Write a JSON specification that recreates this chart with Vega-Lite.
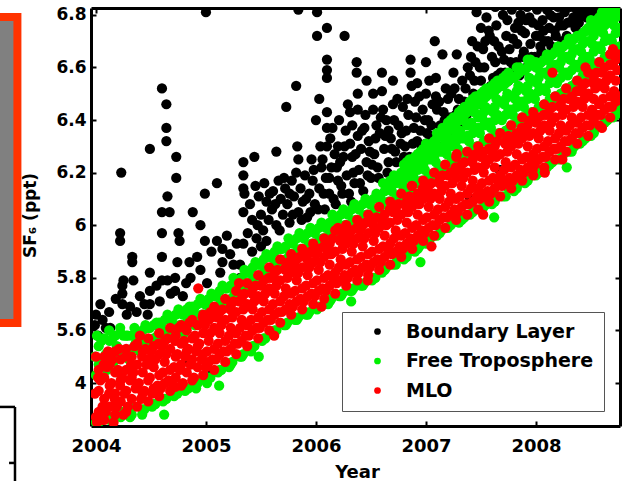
{
  "$schema": "https://vega.github.io/schema/vega-lite/v6.json",
  "width": 529,
  "height": 418,
  "autosize": {"type": "none"},
  "padding": {"left": 91, "top": 8, "right": 12, "bottom": 55},
  "background": "#ffffff",
  "config": {
    "view": {"stroke": null},
    "font": "DejaVu Sans",
    "axis": {
      "grid": false,
      "domainColor": "#000000",
      "domainWidth": 3,
      "tickColor": "#000000",
      "tickWidth": 2,
      "tickSize": -5,
      "labelColor": "#000000",
      "labelFont": "DejaVu Sans",
      "labelFontWeight": "bold",
      "labelFontSize": 18,
      "titleColor": "#000000",
      "titleFont": "DejaVu Sans",
      "titleFontWeight": "bold",
      "zindex": 1
    }
  },
  "datasets": {
    "panel": [{"x0": 2002.94, "x1": 2003.286, "y0": 5.628, "y1": 6.792}],
    "corner": [
      {"x0": 2003.08, "x1": 2003.264, "y0": 5.309, "y1": 5.309},
      {"x0": 2003.264, "x1": 2003.264, "y0": 5.309, "y1": 4.99},
      {"x0": 2003.21, "x1": 2003.264, "y0": 5.096, "y1": 5.096}
    ],
    "bl": [
      {"t":2003.99,"v":5.62},{"t":2004.00,"v":5.66},{"t":2004.02,"v":5.58},{"t":2004.04,"v":5.70},{"t":2004.06,"v":5.64},
      {"t":2004.09,"v":5.61},{"t":2004.13,"v":5.61},{"t":2004.12,"v":5.67},{"t":2004.18,"v":5.72},{"t":2004.22,"v":5.97},
      {"t":2004.22,"v":5.94},{"t":2004.24,"v":5.77},{"t":2004.24,"v":5.74},{"t":2004.24,"v":5.70},{"t":2004.25,"v":5.79},
      {"t":2004.23,"v":6.20},{"t":2004.28,"v":5.66},{"t":2004.31,"v":5.69},{"t":2004.33,"v":5.88},{"t":2004.33,"v":5.86},
      {"t":2004.34,"v":5.79},{"t":2004.37,"v":5.67},{"t":2004.40,"v":5.73},{"t":2004.44,"v":5.70},{"t":2004.49,"v":5.82},
      {"t":2004.49,"v":5.75},{"t":2004.49,"v":5.70},{"t":2004.49,"v":6.29},{"t":2004.47,"v":5.66},
      {"t":2004.55,"v":5.77},{"t":2004.58,"v":5.71},{"t":2004.60,"v":5.79},{"t":2004.60,"v":5.88},{"t":2004.60,"v":5.97},
      {"t":2004.60,"v":6.05},{"t":2004.60,"v":6.52},{"t":2004.64,"v":6.46},{"t":2004.64,"v":6.37},{"t":2004.64,"v":6.32},
      {"t":2004.65,"v":6.11},{"t":2004.65,"v":5.79},{"t":2004.67,"v":6.05},{"t":2004.68,"v":5.74},{"t":2004.72,"v":5.80},
      {"t":2004.72,"v":5.75},{"t":2004.73,"v":6.26},{"t":2004.73,"v":6.18},{"t":2004.74,"v":5.86},{"t":2004.75,"v":5.97},
      {"t":2004.76,"v":5.94},{"t":2004.79,"v":5.73},{"t":2004.82,"v":5.78},{"t":2004.85,"v":5.86},{"t":2004.86,"v":5.80},
      {"t":2004.88,"v":6.05},{"t":2004.92,"v":5.88},{"t":2004.95,"v":6.00},{"t":2004.95,"v":5.83},{"t":2004.99,"v":5.94},
      {"t":2004.99,"v":6.12},{"t":2005.00,"v":6.81},{"t":2005.01,"v":5.78},{"t":2004.85,"v":5.48},
      {"t":2005.05,"v":5.90},{"t":2005.06,"v":5.44},{"t":2005.10,"v":6.16},{"t":2005.10,"v":5.94},{"t":2005.13,"v":5.82},
      {"t":2005.15,"v":5.91},{"t":2005.15,"v":5.86},{"t":2005.19,"v":5.96},{"t":2005.22,"v":5.89},{"t":2005.25,"v":5.85},
      {"t":2005.28,"v":5.93},{"t":2005.31,"v":5.85},{"t":2005.31,"v":5.80},{"t":2005.34,"v":5.93},{"t":2005.34,"v":6.05},
      {"t":2005.34,"v":6.24},{"t":2005.34,"v":6.19},{"t":2005.34,"v":6.14},{"t":2005.35,"v":6.12},{"t":2005.38,"v":5.97},
      {"t":2005.40,"v":6.08},{"t":2005.42,"v":6.02},{"t":2005.44,"v":6.26},{"t":2005.45,"v":6.15},{"t":2005.46,"v":5.95},
      {"t":2005.48,"v":6.11},{"t":2005.50,"v":6.04},{"t":2005.50,"v":5.92},
      {"t":2005.52,"v":5.98},{"t":2005.53,"v":6.16},{"t":2005.55,"v":6.09},{"t":2005.57,"v":6.02},{"t":2005.60,"v":6.06},
      {"t":2005.61,"v":6.13},{"t":2005.64,"v":6.28},{"t":2005.64,"v":6.00},{"t":2005.66,"v":6.17},{"t":2005.68,"v":6.10},
      {"t":2005.70,"v":6.04},{"t":2005.72,"v":6.14},{"t":2005.73,"v":6.45},{"t":2005.74,"v":6.08},{"t":2005.76,"v":6.01},
      {"t":2005.78,"v":6.17},{"t":2005.80,"v":6.11},{"t":2005.82,"v":6.53},{"t":2005.83,"v":6.30},{"t":2005.84,"v":6.25},
      {"t":2005.84,"v":6.05},{"t":2005.86,"v":6.14},{"t":2005.84,"v":6.82},{"t":2005.88,"v":6.09},{"t":2005.90,"v":6.19},
      {"t":2005.92,"v":6.03},{"t":2005.94,"v":6.12},{"t":2005.96,"v":6.25},{"t":2005.97,"v":6.17},{"t":2005.99,"v":6.08},
      {"t":2006.00,"v":6.40},{"t":2006.01,"v":6.72},{"t":2006.01,"v":6.81},{"t":2006.03,"v":6.48},{"t":2006.03,"v":6.14},
      {"t":2006.05,"v":6.22},{"t":2006.06,"v":6.25},{"t":2006.08,"v":6.06},{"t":2006.09,"v":6.18},{"t":2006.10,"v":6.75},
      {"t":2006.10,"v":6.63},{"t":2006.10,"v":6.59},{"t":2006.10,"v":6.56},{"t":2006.10,"v":6.43},{"t":2006.10,"v":6.37},
      {"t":2006.10,"v":6.30},{"t":2006.12,"v":6.12},{"t":2006.14,"v":6.22},{"t":2006.15,"v":6.37},{"t":2006.17,"v":6.27},
      {"t":2006.18,"v":6.08},{"t":2006.20,"v":6.17},{"t":2006.22,"v":6.24},{"t":2006.24,"v":6.12},{"t":2006.26,"v":6.72},
      {"t":2006.26,"v":6.30},{"t":2006.28,"v":6.19},{"t":2006.29,"v":6.46},{"t":2006.31,"v":6.43},{"t":2006.32,"v":6.09},
      {"t":2006.33,"v":6.26},{"t":2006.35,"v":6.16},{"t":2006.37,"v":6.62},{"t":2006.37,"v":6.58},{"t":2006.38,"v":6.50},
      {"t":2006.38,"v":6.44},{"t":2006.38,"v":6.34},{"t":2006.39,"v":6.21},{"t":2006.41,"v":6.29},{"t":2006.43,"v":6.13},
      {"t":2006.44,"v":6.37},{"t":2006.46,"v":6.55},{"t":2006.46,"v":6.24},{"t":2006.48,"v":6.32},{"t":2006.50,"v":6.18},
      {"t":2006.52,"v":6.44},{"t":2006.53,"v":6.27},{"t":2006.55,"v":6.38},{"t":2006.56,"v":6.22},{"t":2006.58,"v":6.35},
      {"t":2006.60,"v":6.58},{"t":2006.60,"v":6.51},{"t":2006.61,"v":6.44},{"t":2006.62,"v":6.29},{"t":2006.64,"v":6.40},
      {"t":2006.66,"v":6.24},{"t":2006.68,"v":6.33},{"t":2006.70,"v":6.46},{"t":2006.72,"v":6.28},{"t":2006.74,"v":6.48},
      {"t":2006.75,"v":6.38},{"t":2006.76,"v":5.89},{"t":2006.77,"v":6.31},{"t":2006.79,"v":6.45},{"t":2006.80,"v":6.26},
      {"t":2006.82,"v":6.36},{"t":2006.84,"v":6.42},{"t":2006.86,"v":6.63},{"t":2006.86,"v":6.58},{"t":2006.87,"v":6.53},
      {"t":2006.88,"v":6.31},{"t":2006.90,"v":6.47},{"t":2006.91,"v":6.41},{"t":2006.93,"v":6.27},{"t":2006.95,"v":6.36},
      {"t":2006.97,"v":6.44},{"t":2007.00,"v":6.62},{"t":2007.00,"v":6.50},{"t":2007.00,"v":6.31},
      {"t":2007.02,"v":6.40},{"t":2007.04,"v":6.34},{"t":2007.06,"v":6.46},{"t":2007.08,"v":6.70},{"t":2007.09,"v":6.56},
      {"t":2007.09,"v":6.49},{"t":2007.10,"v":6.44},{"t":2007.11,"v":6.30},{"t":2007.13,"v":6.38},{"t":2007.15,"v":6.65},
      {"t":2007.16,"v":6.43},{"t":2007.18,"v":6.34},{"t":2007.20,"v":6.48},{"t":2007.22,"v":6.41},{"t":2007.24,"v":6.37},
      {"t":2007.26,"v":6.52},{"t":2007.28,"v":6.65},{"t":2007.29,"v":6.44},{"t":2007.31,"v":6.39},{"t":2007.33,"v":6.55},
      {"t":2007.35,"v":6.47},{"t":2007.37,"v":6.42},{"t":2007.40,"v":6.10},{"t":2007.40,"v":6.57},{"t":2007.42,"v":6.70},
      {"t":2007.43,"v":6.50},{"t":2007.45,"v":6.62},{"t":2007.46,"v":6.81},{"t":2007.48,"v":6.46},{"t":2007.50,"v":6.75},
      {"t":2007.50,"v":6.55},{"t":2007.52,"v":6.67},{"t":2007.53,"v":6.60},{"t":2007.55,"v":6.79},{"t":2007.56,"v":6.51},
      {"t":2007.58,"v":6.72},{"t":2007.60,"v":6.64},{"t":2007.61,"v":6.56},{"t":2007.63,"v":6.83},{"t":2007.64,"v":6.76},
      {"t":2007.66,"v":6.68},{"t":2007.67,"v":6.21},{"t":2007.68,"v":6.58},{"t":2007.70,"v":6.80},{"t":2007.71,"v":6.63},
      {"t":2007.73,"v":6.72},{"t":2007.75,"v":6.55},{"t":2007.76,"v":6.67},{"t":2007.78,"v":6.82},{"t":2007.80,"v":6.60},
      {"t":2007.81,"v":6.75},{"t":2007.83,"v":6.69},{"t":2007.85,"v":6.57},{"t":2007.86,"v":6.80},{"t":2007.88,"v":6.64},
      {"t":2007.90,"v":6.73},{"t":2007.92,"v":6.83},{"t":2007.93,"v":6.61},{"t":2007.95,"v":6.69},{"t":2007.97,"v":6.77},
      {"t":2007.99,"v":6.64},{"t":2008.01,"v":6.82},{"t":2008.03,"v":6.72},{"t":2008.05,"v":6.66},{"t":2008.06,"v":6.78},
      {"t":2008.08,"v":6.70},{"t":2008.10,"v":6.82},{"t":2008.12,"v":6.75},{"t":2008.14,"v":6.68},{"t":2008.16,"v":6.79},
      {"t":2008.18,"v":6.72},{"t":2008.20,"v":6.83},{"t":2008.22,"v":6.76},{"t":2008.24,"v":6.70},{"t":2008.26,"v":6.81},
      {"t":2008.29,"v":6.77},{"t":2008.31,"v":6.83},{"t":2008.34,"v":6.79},{"t":2008.37,"v":6.82},{"t":2008.40,"v":6.80},
      {"t":2008.43,"v":6.83},{"t":2008.46,"v":6.79},{"t":2008.49,"v":6.82},{"t":2008.52,"v":6.80},{"t":2008.55,"v":6.83},
      {"t":2008.58,"v":6.81},
      {"t":2007.47,"v":6.68},{"t":2007.57,"v":6.74},{"t":2007.62,"v":6.70},{"t":2007.69,"v":6.66},{"t":2007.74,"v":6.78},
      {"t":2007.79,"v":6.71},{"t":2007.87,"v":6.74},{"t":2007.94,"v":6.79},{"t":2008.02,"v":6.76},{"t":2007.38,"v":6.60},
      {"t":2007.25,"v":6.58},{"t":2007.18,"v":6.52},{"t":2006.92,"v":6.54},{"t":2006.70,"v":6.55},{"t":2006.52,"v":6.50},
      {"t":2006.66,"v":6.36},{"t":2006.27,"v":6.36},{"t":2006.20,"v":6.30},{"t":2006.45,"v":6.42},{"t":2006.33,"v":6.38},
      {"t":2005.42,"v":5.90},{"t":2005.47,"v":6.00},{"t":2005.55,"v":5.94},{"t":2005.58,"v":6.12},{"t":2005.63,"v":6.08},
      {"t":2005.67,"v":5.98},{"t":2005.71,"v":6.18},{"t":2005.76,"v":6.12},{"t":2005.79,"v":6.04},{"t":2005.82,"v":6.20},
      {"t":2005.87,"v":6.02},{"t":2005.91,"v":6.10},{"t":2005.95,"v":6.05},{"t":2005.98,"v":6.21},
      {"t":2006.02,"v":6.06},{"t":2006.04,"v":6.30},{"t":2006.07,"v":6.12},{"t":2006.12,"v":6.18},{"t":2006.13,"v":6.33},
      {"t":2006.16,"v":6.10},{"t":2006.19,"v":6.22},{"t":2006.21,"v":6.40},{"t":2006.23,"v":6.15},{"t":2006.25,"v":6.26},
      {"t":2006.30,"v":6.12},{"t":2006.31,"v":6.31},{"t":2006.34,"v":6.20},{"t":2006.36,"v":6.27},{"t":2006.40,"v":6.16},
      {"t":2006.42,"v":6.36},{"t":2006.47,"v":6.19},{"t":2006.49,"v":6.28},{"t":2006.51,"v":6.23},{"t":2006.54,"v":6.33},
      {"t":2006.57,"v":6.18},{"t":2006.59,"v":6.41},
      {"t":2006.63,"v":6.34},{"t":2006.65,"v":6.20},{"t":2006.69,"v":6.29},{"t":2006.71,"v":6.40},{"t":2006.73,"v":6.24},
      {"t":2006.78,"v":6.35},{"t":2006.81,"v":6.30},{"t":2006.83,"v":6.48},{"t":2006.85,"v":6.26},{"t":2006.89,"v":6.37},
      {"t":2006.92,"v":6.32},{"t":2006.94,"v":6.49},{"t":2006.96,"v":6.30},{"t":2006.99,"v":6.40},{"t":2007.01,"v":6.35},
      {"t":2007.03,"v":6.55},{"t":2007.05,"v":6.38},{"t":2007.07,"v":6.31},{"t":2007.12,"v":6.47},{"t":2007.14,"v":6.35},
      {"t":2007.17,"v":6.40},{"t":2007.21,"v":6.36},{"t":2007.23,"v":6.50},{"t":2007.27,"v":6.42},{"t":2007.30,"v":6.48},
      {"t":2007.32,"v":6.41},{"t":2007.36,"v":6.52},{"t":2007.39,"v":6.45},
      {"t":2007.41,"v":6.64},{"t":2007.44,"v":6.55},{"t":2007.49,"v":6.60},{"t":2007.51,"v":6.50},{"t":2007.54,"v":6.70},
      {"t":2007.59,"v":6.53},{"t":2007.63,"v":6.62},{"t":2007.65,"v":6.57},{"t":2007.72,"v":6.58},{"t":2007.77,"v":6.62},
      {"t":2007.82,"v":6.62},{"t":2007.84,"v":6.77},{"t":2007.89,"v":6.66},{"t":2007.91,"v":6.78},{"t":2007.96,"v":6.64},
      {"t":2008.00,"v":6.72},{"t":2008.04,"v":6.68},{"t":2008.07,"v":6.74},{"t":2008.11,"v":6.70},{"t":2008.13,"v":6.80},
      {"t":2008.17,"v":6.74},{"t":2008.21,"v":6.79},{"t":2008.25,"v":6.76},{"t":2008.28,"v":6.72},{"t":2008.33,"v":6.77},
      {"t":2008.36,"v":6.75},{"t":2008.39,"v":6.77},{"t":2008.44,"v":6.80},{"t":2008.48,"v":6.79},{"t":2008.53,"v":6.82},
      {"t":2008.57,"v":6.83},{"t":2008.62,"v":6.84}
    ],
    "ft": [
      {"t":2004.00,"v":5.43},{"t":2003.99,"v":5.50},{"t":2004.01,"v":5.58},{"t":2004.00,"v":5.25},
      {"t":2004.06,"v":5.47},{"t":2004.05,"v":5.56},{"t":2004.04,"v":5.26},
      {"t":2004.10,"v":5.45},{"t":2004.09,"v":5.51},{"t":2004.12,"v":5.60},
      {"t":2004.16,"v":5.48},{"t":2004.15,"v":5.57},{"t":2004.14,"v":5.27},
      {"t":2004.20,"v":5.44},{"t":2004.19,"v":5.54},{"t":2004.22,"v":5.61},
      {"t":2004.26,"v":5.51},{"t":2004.25,"v":5.58},{"t":2004.24,"v":5.29},
      {"t":2004.30,"v":5.49},{"t":2004.29,"v":5.58},{"t":2004.31,"v":5.27},
      {"t":2004.36,"v":5.55},{"t":2004.35,"v":5.61},{"t":2004.34,"v":5.31},
      {"t":2004.40,"v":5.52},{"t":2004.39,"v":5.58},{"t":2004.42,"v":5.28},
      {"t":2004.46,"v":5.56},{"t":2004.45,"v":5.62},{"t":2004.44,"v":5.30},
      {"t":2004.50,"v":5.53},{"t":2004.49,"v":5.61},{"t":2004.51,"v":5.31},
      {"t":2004.56,"v":5.58},{"t":2004.55,"v":5.63},{"t":2004.54,"v":5.32},
      {"t":2004.60,"v":5.56},{"t":2004.59,"v":5.62},{"t":2004.61,"v":5.33},
      {"t":2004.66,"v":5.60},{"t":2004.65,"v":5.66},{"t":2004.64,"v":5.34},
      {"t":2004.70,"v":5.58},{"t":2004.69,"v":5.64},{"t":2004.71,"v":5.35},
      {"t":2004.76,"v":5.62},{"t":2004.75,"v":5.68},{"t":2004.74,"v":5.36},
      {"t":2004.80,"v":5.59},{"t":2004.79,"v":5.66},{"t":2004.81,"v":5.37},
      {"t":2004.86,"v":5.65},{"t":2004.85,"v":5.69},{"t":2004.84,"v":5.38},
      {"t":2004.90,"v":5.62},{"t":2004.89,"v":5.68},{"t":2004.91,"v":5.38},
      {"t":2004.96,"v":5.66},{"t":2004.95,"v":5.72},{"t":2004.94,"v":5.41},
      {"t":2005.00,"v":5.64},{"t":2004.99,"v":5.70},{"t":2005.01,"v":5.40},
      {"t":2005.06,"v":5.68},{"t":2005.05,"v":5.74},{"t":2005.04,"v":5.42},
      {"t":2005.10,"v":5.67},{"t":2005.09,"v":5.73},{"t":2005.11,"v":5.44},
      {"t":2005.16,"v":5.71},{"t":2005.15,"v":5.77},{"t":2005.14,"v":5.45},
      {"t":2005.20,"v":5.70},{"t":2005.19,"v":5.76},{"t":2005.21,"v":5.46},
      {"t":2005.26,"v":5.74},{"t":2005.25,"v":5.80},{"t":2005.24,"v":5.48},
      {"t":2005.30,"v":5.73},{"t":2005.29,"v":5.79},{"t":2005.31,"v":5.50},
      {"t":2005.36,"v":5.77},{"t":2005.35,"v":5.83},{"t":2005.34,"v":5.51},
      {"t":2005.40,"v":5.76},{"t":2005.39,"v":5.82},{"t":2005.41,"v":5.52},
      {"t":2005.46,"v":5.80},{"t":2005.45,"v":5.86},{"t":2005.44,"v":5.54},
      {"t":2005.50,"v":5.79},{"t":2005.49,"v":5.85},{"t":2005.51,"v":5.56},
      {"t":2005.56,"v":5.83},{"t":2005.55,"v":5.89},{"t":2005.54,"v":5.57},
      {"t":2005.60,"v":5.82},{"t":2005.59,"v":5.88},{"t":2005.61,"v":5.59},
      {"t":2005.66,"v":5.86},{"t":2005.65,"v":5.92},{"t":2005.64,"v":5.60},
      {"t":2005.70,"v":5.85},{"t":2005.69,"v":5.91},{"t":2005.71,"v":5.62},
      {"t":2005.76,"v":5.89},{"t":2005.75,"v":5.95},{"t":2005.74,"v":5.63},
      {"t":2005.80,"v":5.87},{"t":2005.79,"v":5.93},{"t":2005.81,"v":5.64},
      {"t":2005.86,"v":5.91},{"t":2005.85,"v":5.97},{"t":2005.84,"v":5.65},
      {"t":2005.90,"v":5.89},{"t":2005.89,"v":5.95},{"t":2005.91,"v":5.66},
      {"t":2005.96,"v":5.93},{"t":2005.95,"v":5.99},{"t":2005.94,"v":5.67},
      {"t":2006.00,"v":5.91},{"t":2005.99,"v":5.97},{"t":2006.01,"v":5.68},
      {"t":2006.06,"v":5.95},{"t":2006.05,"v":6.01},{"t":2006.04,"v":5.69},
      {"t":2006.10,"v":5.93},{"t":2006.09,"v":5.99},{"t":2006.11,"v":5.70},
      {"t":2006.16,"v":5.98},{"t":2006.15,"v":6.04},{"t":2006.14,"v":5.72},
      {"t":2006.20,"v":5.96},{"t":2006.19,"v":6.02},{"t":2006.21,"v":5.73},
      {"t":2006.26,"v":6.00},{"t":2006.25,"v":6.06},{"t":2006.24,"v":5.74},
      {"t":2006.30,"v":5.98},{"t":2006.29,"v":6.04},{"t":2006.31,"v":5.75},
      {"t":2006.36,"v":6.02},{"t":2006.35,"v":6.08},{"t":2006.34,"v":5.76},
      {"t":2006.40,"v":6.00},{"t":2006.39,"v":6.06},{"t":2006.41,"v":5.77},
      {"t":2006.46,"v":6.04},{"t":2006.45,"v":6.10},{"t":2006.44,"v":5.78},
      {"t":2006.50,"v":6.02},{"t":2006.49,"v":6.08},{"t":2006.51,"v":5.79},
      {"t":2006.56,"v":6.06},{"t":2006.55,"v":6.12},{"t":2006.54,"v":5.80},
      {"t":2006.60,"v":6.04},{"t":2006.59,"v":6.10},{"t":2006.61,"v":6.16},{"t":2006.60,"v":5.82},
      {"t":2006.66,"v":6.09},{"t":2006.65,"v":6.15},{"t":2006.64,"v":5.84},
      {"t":2006.70,"v":6.07},{"t":2006.69,"v":6.13},{"t":2006.71,"v":6.19},{"t":2006.70,"v":5.85},
      {"t":2006.76,"v":6.11},{"t":2006.75,"v":6.17},{"t":2006.74,"v":5.87},
      {"t":2006.80,"v":6.09},{"t":2006.79,"v":6.15},{"t":2006.81,"v":6.21},{"t":2006.80,"v":5.87},
      {"t":2006.86,"v":6.14},{"t":2006.85,"v":6.20},{"t":2006.84,"v":5.90},
      {"t":2006.90,"v":6.12},{"t":2006.89,"v":6.18},{"t":2006.91,"v":6.24},{"t":2006.90,"v":5.90},
      {"t":2006.96,"v":6.17},{"t":2006.95,"v":6.23},{"t":2006.94,"v":5.92},
      {"t":2007.00,"v":6.15},{"t":2006.99,"v":6.21},{"t":2007.01,"v":6.27},{"t":2007.00,"v":5.93},
      {"t":2007.06,"v":6.19},{"t":2007.05,"v":6.25},{"t":2007.04,"v":5.95},
      {"t":2007.10,"v":6.18},{"t":2007.09,"v":6.24},{"t":2007.11,"v":6.30},{"t":2007.10,"v":5.96},
      {"t":2007.16,"v":6.22},{"t":2007.15,"v":6.28},{"t":2007.14,"v":5.98},
      {"t":2007.20,"v":6.21},{"t":2007.19,"v":6.27},{"t":2007.21,"v":6.33},{"t":2007.20,"v":5.99},
      {"t":2007.26,"v":6.25},{"t":2007.25,"v":6.31},{"t":2007.24,"v":6.01},
      {"t":2007.30,"v":6.23},{"t":2007.29,"v":6.29},{"t":2007.31,"v":6.36},{"t":2007.30,"v":6.01},
      {"t":2007.36,"v":6.27},{"t":2007.35,"v":6.33},{"t":2007.34,"v":6.40},{"t":2007.35,"v":6.03},
      {"t":2007.40,"v":6.26},{"t":2007.39,"v":6.32},{"t":2007.41,"v":6.39},{"t":2007.40,"v":6.04},
      {"t":2007.46,"v":6.30},{"t":2007.45,"v":6.37},{"t":2007.44,"v":6.43},{"t":2007.45,"v":6.06},
      {"t":2007.50,"v":6.28},{"t":2007.49,"v":6.35},{"t":2007.51,"v":6.41},{"t":2007.50,"v":6.06},
      {"t":2007.56,"v":6.32},{"t":2007.55,"v":6.39},{"t":2007.54,"v":6.45},{"t":2007.55,"v":6.08},
      {"t":2007.60,"v":6.30},{"t":2007.59,"v":6.37},{"t":2007.61,"v":6.43},{"t":2007.60,"v":6.08},
      {"t":2007.66,"v":6.35},{"t":2007.65,"v":6.42},{"t":2007.64,"v":6.48},{"t":2007.65,"v":6.11},
      {"t":2007.70,"v":6.33},{"t":2007.69,"v":6.40},{"t":2007.71,"v":6.46},{"t":2007.70,"v":6.11},
      {"t":2007.76,"v":6.37},{"t":2007.75,"v":6.44},{"t":2007.74,"v":6.50},{"t":2007.75,"v":6.14},
      {"t":2007.80,"v":6.35},{"t":2007.79,"v":6.42},{"t":2007.81,"v":6.48},{"t":2007.80,"v":6.13},
      {"t":2007.86,"v":6.40},{"t":2007.85,"v":6.47},{"t":2007.84,"v":6.53},{"t":2007.85,"v":6.16},
      {"t":2007.90,"v":6.38},{"t":2007.89,"v":6.45},{"t":2007.91,"v":6.51},{"t":2007.90,"v":6.16},
      {"t":2007.96,"v":6.43},{"t":2007.95,"v":6.50},{"t":2007.94,"v":6.56},{"t":2007.95,"v":6.19},
      {"t":2008.00,"v":6.41},{"t":2007.99,"v":6.48},{"t":2008.01,"v":6.54},{"t":2008.00,"v":6.19},
      {"t":2008.06,"v":6.45},{"t":2008.05,"v":6.52},{"t":2008.04,"v":6.58},{"t":2008.05,"v":6.21},
      {"t":2008.10,"v":6.44},{"t":2008.09,"v":6.51},{"t":2008.11,"v":6.57},{"t":2008.10,"v":6.22},
      {"t":2008.16,"v":6.48},{"t":2008.15,"v":6.55},{"t":2008.14,"v":6.61},{"t":2008.15,"v":6.24},
      {"t":2008.20,"v":6.47},{"t":2008.19,"v":6.54},{"t":2008.21,"v":6.60},{"t":2008.20,"v":6.25},
      {"t":2008.26,"v":6.51},{"t":2008.25,"v":6.58},{"t":2008.24,"v":6.64},{"t":2008.25,"v":6.27},
      {"t":2008.30,"v":6.50},{"t":2008.29,"v":6.57},{"t":2008.31,"v":6.63},{"t":2008.30,"v":6.28},
      {"t":2008.36,"v":6.54},{"t":2008.35,"v":6.61},{"t":2008.34,"v":6.67},{"t":2008.35,"v":6.30},
      {"t":2008.40,"v":6.53},{"t":2008.39,"v":6.60},{"t":2008.41,"v":6.66},{"t":2008.40,"v":6.31},
      {"t":2008.46,"v":6.57},{"t":2008.45,"v":6.64},{"t":2008.44,"v":6.70},{"t":2008.45,"v":6.33},{"t":2008.46,"v":6.74},
      {"t":2008.50,"v":6.56},{"t":2008.49,"v":6.63},{"t":2008.51,"v":6.69},{"t":2008.50,"v":6.34},{"t":2008.50,"v":6.76},
      {"t":2008.56,"v":6.61},{"t":2008.55,"v":6.68},{"t":2008.54,"v":6.74},{"t":2008.55,"v":6.37},
      {"t":2008.60,"v":6.60},{"t":2008.59,"v":6.67},{"t":2008.61,"v":6.73},{"t":2008.60,"v":6.38},{"t":2008.60,"v":6.79},
      {"t":2008.66,"v":6.64},{"t":2008.65,"v":6.71},{"t":2008.64,"v":6.77},{"t":2008.65,"v":6.40},
      {"t":2008.70,"v":6.63},{"t":2008.69,"v":6.70},{"t":2008.71,"v":6.76},{"t":2008.70,"v":6.41},{"t":2008.70,"v":6.81},
      {"t":2008.76,"v":6.68},{"t":2008.75,"v":6.75},{"t":2008.74,"v":6.81},{"t":2008.75,"v":6.44},
      {"t":2005.12,"v":5.39},{"t":2006.32,"v":5.71},{"t":2006.95,"v":5.86},{"t":2007.62,"v":6.03},{"t":2008.28,"v":6.22},
      {"t":2005.48,"v":5.50},{"t":2004.62,"v":5.28},
      {"t":2004.025,"v":5.47},{"t":2004.025,"v":5.54},{"t":2004.025,"v":5.25},{"t":2004.075,"v":5.49},{"t":2004.075,"v":5.57},
      {"t":2004.125,"v":5.50},{"t":2004.125,"v":5.56},{"t":2004.125,"v":5.26},{"t":2004.175,"v":5.51},{"t":2004.175,"v":5.58},
      {"t":2004.225,"v":5.52},{"t":2004.225,"v":5.59},{"t":2004.225,"v":5.27},{"t":2004.275,"v":5.52},{"t":2004.275,"v":5.58},
      {"t":2004.325,"v":5.53},{"t":2004.325,"v":5.58},{"t":2004.325,"v":5.28},{"t":2004.375,"v":5.54},{"t":2004.375,"v":5.59},
      {"t":2004.425,"v":5.55},{"t":2004.425,"v":5.60},{"t":2004.425,"v":5.30},{"t":2004.475,"v":5.56},{"t":2004.475,"v":5.61},
      {"t":2004.525,"v":5.57},{"t":2004.525,"v":5.62},{"t":2004.525,"v":5.32},{"t":2004.575,"v":5.58},{"t":2004.575,"v":5.63},
      {"t":2004.625,"v":5.59},{"t":2004.625,"v":5.64},{"t":2004.625,"v":5.34},{"t":2004.675,"v":5.60},{"t":2004.675,"v":5.65},
      {"t":2004.725,"v":5.61},{"t":2004.725,"v":5.66},{"t":2004.725,"v":5.36},{"t":2004.775,"v":5.62},{"t":2004.775,"v":5.67},
      {"t":2004.825,"v":5.63},{"t":2004.825,"v":5.68},{"t":2004.825,"v":5.38},{"t":2004.875,"v":5.64},{"t":2004.875,"v":5.69},
      {"t":2004.925,"v":5.65},{"t":2004.925,"v":5.70},{"t":2004.925,"v":5.40},{"t":2004.975,"v":5.66},{"t":2004.975,"v":5.71},
      {"t":2005.025,"v":5.67},{"t":2005.025,"v":5.72},{"t":2005.025,"v":5.42},{"t":2005.075,"v":5.68},{"t":2005.075,"v":5.73},
      {"t":2005.125,"v":5.70},{"t":2005.125,"v":5.75},{"t":2005.125,"v":5.45},{"t":2005.175,"v":5.71},{"t":2005.175,"v":5.76},
      {"t":2005.225,"v":5.72},{"t":2005.225,"v":5.77},{"t":2005.225,"v":5.47},{"t":2005.275,"v":5.74},{"t":2005.275,"v":5.79},
      {"t":2005.325,"v":5.75},{"t":2005.325,"v":5.80},{"t":2005.325,"v":5.50},{"t":2005.375,"v":5.77},{"t":2005.375,"v":5.82},
      {"t":2005.425,"v":5.79},{"t":2005.425,"v":5.84},{"t":2005.425,"v":5.54},{"t":2005.475,"v":5.80},{"t":2005.475,"v":5.85},
      {"t":2005.525,"v":5.82},{"t":2005.525,"v":5.87},{"t":2005.525,"v":5.57},{"t":2005.575,"v":5.83},{"t":2005.575,"v":5.88},
      {"t":2005.625,"v":5.85},{"t":2005.625,"v":5.90},{"t":2005.625,"v":5.60},{"t":2005.675,"v":5.86},{"t":2005.675,"v":5.91},
      {"t":2005.725,"v":5.87},{"t":2005.725,"v":5.92},{"t":2005.725,"v":5.62},{"t":2005.775,"v":5.89},{"t":2005.775,"v":5.94},
      {"t":2005.825,"v":5.90},{"t":2005.825,"v":5.95},{"t":2005.825,"v":5.64},{"t":2005.875,"v":5.91},{"t":2005.875,"v":5.96},
      {"t":2005.925,"v":5.92},{"t":2005.925,"v":5.97},{"t":2005.925,"v":5.66},{"t":2005.975,"v":5.93},{"t":2005.975,"v":5.98},
      {"t":2006.025,"v":5.94},{"t":2006.025,"v":5.99},{"t":2006.025,"v":5.69},{"t":2006.075,"v":5.95},{"t":2006.075,"v":6.00},
      {"t":2006.125,"v":5.96},{"t":2006.125,"v":6.01},{"t":2006.125,"v":5.71},{"t":2006.175,"v":5.97},{"t":2006.175,"v":6.02},
      {"t":2006.225,"v":5.99},{"t":2006.225,"v":6.04},{"t":2006.225,"v":5.73},{"t":2006.275,"v":6.00},{"t":2006.275,"v":6.05},
      {"t":2006.325,"v":6.01},{"t":2006.325,"v":6.06},{"t":2006.325,"v":5.75},{"t":2006.375,"v":6.02},{"t":2006.375,"v":6.07},
      {"t":2006.425,"v":6.03},{"t":2006.425,"v":6.08},{"t":2006.425,"v":5.77},{"t":2006.475,"v":6.04},{"t":2006.475,"v":6.09},
      {"t":2006.525,"v":6.05},{"t":2006.525,"v":6.10},{"t":2006.525,"v":5.80},{"t":2006.575,"v":6.06},{"t":2006.575,"v":6.11},
      {"t":2006.625,"v":6.08},{"t":2006.625,"v":6.13},{"t":2006.625,"v":5.83},{"t":2006.675,"v":6.09},{"t":2006.675,"v":6.14},{"t":2006.675,"v":6.17},
      {"t":2006.725,"v":6.10},{"t":2006.725,"v":6.16},{"t":2006.725,"v":5.85},{"t":2006.775,"v":6.12},{"t":2006.775,"v":6.17},{"t":2006.775,"v":6.20},
      {"t":2006.825,"v":6.13},{"t":2006.825,"v":6.18},{"t":2006.825,"v":5.88},{"t":2006.875,"v":6.15},{"t":2006.875,"v":6.20},{"t":2006.875,"v":6.23},
      {"t":2006.925,"v":6.16},{"t":2006.925,"v":6.21},{"t":2006.925,"v":5.91},{"t":2006.975,"v":6.17},{"t":2006.975,"v":6.23},{"t":2006.975,"v":6.26},
      {"t":2007.025,"v":6.19},{"t":2007.025,"v":6.25},{"t":2007.025,"v":5.94},{"t":2007.075,"v":6.20},{"t":2007.075,"v":6.26},{"t":2007.075,"v":6.29},
      {"t":2007.125,"v":6.22},{"t":2007.125,"v":6.28},{"t":2007.125,"v":5.97},{"t":2007.175,"v":6.23},{"t":2007.175,"v":6.29},{"t":2007.175,"v":6.32},
      {"t":2007.225,"v":6.24},{"t":2007.225,"v":6.30},{"t":2007.225,"v":6.00},{"t":2007.275,"v":6.26},{"t":2007.275,"v":6.32},{"t":2007.275,"v":6.35},
      {"t":2007.325,"v":6.27},{"t":2007.325,"v":6.33},{"t":2007.325,"v":6.02},{"t":2007.375,"v":6.28},{"t":2007.375,"v":6.34},{"t":2007.375,"v":6.38},
      {"t":2007.425,"v":6.29},{"t":2007.425,"v":6.35},{"t":2007.425,"v":6.05},{"t":2007.475,"v":6.30},{"t":2007.475,"v":6.37},{"t":2007.475,"v":6.41},
      {"t":2007.525,"v":6.32},{"t":2007.525,"v":6.38},{"t":2007.525,"v":6.43},{"t":2007.525,"v":6.07},
      {"t":2007.575,"v":6.33},{"t":2007.575,"v":6.39},{"t":2007.575,"v":6.44},
      {"t":2007.625,"v":6.34},{"t":2007.625,"v":6.40},{"t":2007.625,"v":6.45},{"t":2007.625,"v":6.09},
      {"t":2007.675,"v":6.35},{"t":2007.675,"v":6.41},{"t":2007.675,"v":6.47},
      {"t":2007.725,"v":6.36},{"t":2007.725,"v":6.42},{"t":2007.725,"v":6.48},{"t":2007.725,"v":6.11},
      {"t":2007.775,"v":6.38},{"t":2007.775,"v":6.44},{"t":2007.775,"v":6.49},
      {"t":2007.825,"v":6.39},{"t":2007.825,"v":6.45},{"t":2007.825,"v":6.51},{"t":2007.825,"v":6.14},
      {"t":2007.875,"v":6.41},{"t":2007.875,"v":6.47},{"t":2007.875,"v":6.52},
      {"t":2007.925,"v":6.42},{"t":2007.925,"v":6.48},{"t":2007.925,"v":6.53},{"t":2007.925,"v":6.17},
      {"t":2007.975,"v":6.43},{"t":2007.975,"v":6.49},{"t":2007.975,"v":6.55},
      {"t":2008.025,"v":6.45},{"t":2008.025,"v":6.51},{"t":2008.025,"v":6.56},{"t":2008.025,"v":6.20},
      {"t":2008.075,"v":6.46},{"t":2008.075,"v":6.52},{"t":2008.075,"v":6.58},
      {"t":2008.125,"v":6.48},{"t":2008.125,"v":6.54},{"t":2008.125,"v":6.59},{"t":2008.125,"v":6.23},
      {"t":2008.175,"v":6.49},{"t":2008.175,"v":6.55},{"t":2008.175,"v":6.61},
      {"t":2008.225,"v":6.50},{"t":2008.225,"v":6.56},{"t":2008.225,"v":6.62},{"t":2008.225,"v":6.25},
      {"t":2008.275,"v":6.52},{"t":2008.275,"v":6.58},{"t":2008.275,"v":6.64},
      {"t":2008.325,"v":6.53},{"t":2008.325,"v":6.59},{"t":2008.325,"v":6.65},{"t":2008.325,"v":6.28},
      {"t":2008.375,"v":6.55},{"t":2008.375,"v":6.61},{"t":2008.375,"v":6.67},
      {"t":2008.425,"v":6.57},{"t":2008.425,"v":6.63},{"t":2008.425,"v":6.69},{"t":2008.425,"v":6.32},
      {"t":2008.475,"v":6.58},{"t":2008.475,"v":6.64},{"t":2008.475,"v":6.70},{"t":2008.475,"v":6.74},
      {"t":2008.525,"v":6.60},{"t":2008.525,"v":6.66},{"t":2008.525,"v":6.72},{"t":2008.525,"v":6.35},
      {"t":2008.575,"v":6.62},{"t":2008.575,"v":6.68},{"t":2008.575,"v":6.74},{"t":2008.575,"v":6.77},
      {"t":2008.625,"v":6.64},{"t":2008.625,"v":6.70},{"t":2008.625,"v":6.76},{"t":2008.625,"v":6.39},
      {"t":2008.675,"v":6.65},{"t":2008.675,"v":6.71},{"t":2008.675,"v":6.77},{"t":2008.675,"v":6.80},
      {"t":2008.725,"v":6.67},{"t":2008.725,"v":6.73},{"t":2008.725,"v":6.79},{"t":2008.725,"v":6.42},
      {"t":2006.80,"v":6.23},{"t":2006.85,"v":6.25},{"t":2006.90,"v":6.26},{"t":2006.95,"v":6.28},
      {"t":2007.00,"v":6.29},{"t":2007.00,"v":6.31},{"t":2007.05,"v":6.31},{"t":2007.10,"v":6.33},{"t":2007.10,"v":6.35},
      {"t":2007.15,"v":6.34},{"t":2007.15,"v":6.37},{"t":2007.20,"v":6.36},{"t":2007.20,"v":6.39},{"t":2007.25,"v":6.38},
      {"t":2007.25,"v":6.41},{"t":2007.30,"v":6.40},{"t":2007.30,"v":6.43},{"t":2007.35,"v":6.42},{"t":2007.35,"v":6.45},
      {"t":2007.40,"v":6.44},{"t":2007.40,"v":6.47},{"t":2007.45,"v":6.46},{"t":2007.45,"v":6.49},{"t":2007.50,"v":6.47},
      {"t":2007.50,"v":6.50},{"t":2007.55,"v":6.49},{"t":2007.55,"v":6.52},{"t":2007.60,"v":6.50},{"t":2007.60,"v":6.53},
      {"t":2007.65,"v":6.52},{"t":2007.65,"v":6.55},{"t":2007.70,"v":6.53},{"t":2007.70,"v":6.56},{"t":2007.75,"v":6.55},
      {"t":2007.75,"v":6.58},{"t":2007.80,"v":6.56},{"t":2007.85,"v":6.58},{"t":2007.85,"v":6.60},{"t":2007.90,"v":6.59},
      {"t":2007.95,"v":6.61},{"t":2007.95,"v":6.63},{"t":2008.00,"v":6.60},{"t":2008.00,"v":6.62},{"t":2008.05,"v":6.62},
      {"t":2008.10,"v":6.63},{"t":2008.10,"v":6.65},{"t":2008.15,"v":6.65},{"t":2008.20,"v":6.66},{"t":2008.20,"v":6.68},
      {"t":2008.25,"v":6.68},{"t":2008.30,"v":6.69},{"t":2008.30,"v":6.71},{"t":2008.35,"v":6.71},{"t":2008.40,"v":6.72},
      {"t":2008.45,"v":6.74},{"t":2008.50,"v":6.78},{"t":2008.55,"v":6.78},{"t":2008.60,"v":6.81},{"t":2008.65,"v":6.81},
      {"t":2006.825,"v":6.24},{"t":2006.875,"v":6.25},{"t":2006.925,"v":6.27},{"t":2006.975,"v":6.29},{"t":2007.025,"v":6.30},
      {"t":2007.075,"v":6.32},{"t":2007.125,"v":6.34},{"t":2007.175,"v":6.36},{"t":2007.225,"v":6.38},{"t":2007.225,"v":6.40},
      {"t":2007.275,"v":6.39},{"t":2007.325,"v":6.41},{"t":2007.325,"v":6.44},{"t":2007.375,"v":6.43},{"t":2007.425,"v":6.45},
      {"t":2007.425,"v":6.48},{"t":2007.475,"v":6.46},{"t":2007.525,"v":6.48},{"t":2007.525,"v":6.51},{"t":2007.575,"v":6.50},
      {"t":2007.625,"v":6.51},{"t":2007.625,"v":6.54},{"t":2007.675,"v":6.53},{"t":2007.725,"v":6.54},{"t":2007.725,"v":6.57},
      {"t":2007.775,"v":6.56},{"t":2007.825,"v":6.57},{"t":2007.825,"v":6.60},{"t":2007.875,"v":6.59},{"t":2007.925,"v":6.60},
      {"t":2007.925,"v":6.63},{"t":2007.975,"v":6.62},{"t":2008.025,"v":6.61},{"t":2008.075,"v":6.63},{"t":2008.125,"v":6.64},
      {"t":2008.175,"v":6.66},{"t":2008.225,"v":6.67},{"t":2008.275,"v":6.69},{"t":2008.325,"v":6.70},{"t":2008.375,"v":6.72},
      {"t":2008.425,"v":6.73},{"t":2008.475,"v":6.75},{"t":2008.525,"v":6.77},{"t":2008.575,"v":6.79},{"t":2008.625,"v":6.80}
    ],
    "mlo": [
      {"t":2004.00,"v":5.27},{"t":2003.99,"v":5.36},{"t":2004.02,"v":5.42},{"t":2004.00,"v":5.50},{"t":2004.01,"v":5.25},
      {"t":2004.06,"v":5.31},{"t":2004.04,"v":5.41},{"t":2004.07,"v":5.47},{"t":2004.05,"v":5.26},
      {"t":2004.09,"v":5.29},{"t":2004.12,"v":5.36},{"t":2004.10,"v":5.46},{"t":2004.11,"v":5.52},
      {"t":2004.17,"v":5.34},{"t":2004.14,"v":5.40},{"t":2004.15,"v":5.49},{"t":2004.16,"v":5.25},
      {"t":2004.19,"v":5.31},{"t":2004.22,"v":5.39},{"t":2004.20,"v":5.45},{"t":2004.21,"v":5.53},
      {"t":2004.26,"v":5.36},{"t":2004.24,"v":5.42},{"t":2004.27,"v":5.50},{"t":2004.25,"v":5.28},
      {"t":2004.29,"v":5.31},{"t":2004.31,"v":5.41},{"t":2004.32,"v":5.47},
      {"t":2004.36,"v":5.38},{"t":2004.34,"v":5.44},{"t":2004.35,"v":5.54},
      {"t":2004.41,"v":5.34},{"t":2004.39,"v":5.40},{"t":2004.42,"v":5.50},
      {"t":2004.44,"v":5.37},{"t":2004.46,"v":5.47},{"t":2004.45,"v":5.53},
      {"t":2004.51,"v":5.36},{"t":2004.49,"v":5.42},{"t":2004.50,"v":5.52},
      {"t":2004.56,"v":5.39},{"t":2004.54,"v":5.49},{"t":2004.57,"v":5.55},
      {"t":2004.59,"v":5.38},{"t":2004.61,"v":5.44},{"t":2004.60,"v":5.54},
      {"t":2004.66,"v":5.41},{"t":2004.64,"v":5.51},{"t":2004.65,"v":5.57},
      {"t":2004.69,"v":5.40},{"t":2004.71,"v":5.46},{"t":2004.72,"v":5.56},
      {"t":2004.76,"v":5.45},{"t":2004.74,"v":5.51},{"t":2004.75,"v":5.61},{"t":2004.72,"v":5.385},
      {"t":2004.79,"v":5.40},{"t":2004.81,"v":5.50},{"t":2004.80,"v":5.56},
      {"t":2004.86,"v":5.47},{"t":2004.84,"v":5.53},{"t":2004.85,"v":5.63},
      {"t":2004.89,"v":5.42},{"t":2004.91,"v":5.52},{"t":2004.90,"v":5.58},{"t":2004.93,"v":5.76},
      {"t":2004.96,"v":5.49},{"t":2004.94,"v":5.55},{"t":2004.97,"v":5.65},
      {"t":2005.00,"v":5.46},{"t":2005.01,"v":5.52},{"t":2004.99,"v":5.62},{"t":2005.04,"v":5.67},
      {"t":2005.06,"v":5.49},{"t":2005.04,"v":5.59},{"t":2005.05,"v":5.65},
      {"t":2005.09,"v":5.49},{"t":2005.11,"v":5.55},{"t":2005.10,"v":5.65},
      {"t":2005.16,"v":5.52},{"t":2005.14,"v":5.62},{"t":2005.15,"v":5.68},
      {"t":2005.19,"v":5.52},{"t":2005.21,"v":5.58},{"t":2005.22,"v":5.68},
      {"t":2005.26,"v":5.55},{"t":2005.24,"v":5.65},{"t":2005.25,"v":5.71},
      {"t":2005.29,"v":5.55},{"t":2005.31,"v":5.61},{"t":2005.30,"v":5.71},
      {"t":2005.36,"v":5.58},{"t":2005.34,"v":5.68},{"t":2005.35,"v":5.74},
      {"t":2005.39,"v":5.58},{"t":2005.41,"v":5.64},{"t":2005.42,"v":5.74},
      {"t":2005.46,"v":5.61},{"t":2005.44,"v":5.71},{"t":2005.45,"v":5.77},
      {"t":2005.49,"v":5.61},{"t":2005.51,"v":5.67},{"t":2005.50,"v":5.77},
      {"t":2005.56,"v":5.64},{"t":2005.54,"v":5.74},{"t":2005.57,"v":5.80},
      {"t":2005.59,"v":5.64},{"t":2005.61,"v":5.70},{"t":2005.60,"v":5.80},
      {"t":2005.66,"v":5.67},{"t":2005.64,"v":5.77},{"t":2005.65,"v":5.83},
      {"t":2005.69,"v":5.67},{"t":2005.71,"v":5.73},{"t":2005.72,"v":5.83},
      {"t":2005.76,"v":5.70},{"t":2005.74,"v":5.80},{"t":2005.75,"v":5.86},
      {"t":2005.79,"v":5.69},{"t":2005.81,"v":5.75},{"t":2005.80,"v":5.85},
      {"t":2005.86,"v":5.72},{"t":2005.84,"v":5.82},{"t":2005.85,"v":5.88},
      {"t":2005.89,"v":5.71},{"t":2005.91,"v":5.77},{"t":2005.92,"v":5.87},
      {"t":2005.96,"v":5.74},{"t":2005.94,"v":5.84},{"t":2005.95,"v":5.90},
      {"t":2005.99,"v":5.73},{"t":2006.01,"v":5.79},{"t":2006.00,"v":5.89},
      {"t":2006.06,"v":5.76},{"t":2006.04,"v":5.86},{"t":2006.07,"v":5.92},
      {"t":2006.09,"v":5.75},{"t":2006.11,"v":5.81},{"t":2006.10,"v":5.91},
      {"t":2006.16,"v":5.79},{"t":2006.14,"v":5.89},{"t":2006.15,"v":5.95},
      {"t":2006.19,"v":5.78},{"t":2006.21,"v":5.84},{"t":2006.22,"v":5.94},
      {"t":2006.26,"v":5.81},{"t":2006.24,"v":5.91},{"t":2006.25,"v":5.97},
      {"t":2006.29,"v":5.80},{"t":2006.31,"v":5.86},{"t":2006.30,"v":5.96},
      {"t":2006.36,"v":5.83},{"t":2006.34,"v":5.93},{"t":2006.37,"v":5.99},
      {"t":2006.39,"v":5.82},{"t":2006.41,"v":5.88},{"t":2006.40,"v":5.98},
      {"t":2006.46,"v":5.85},{"t":2006.44,"v":5.95},{"t":2006.45,"v":6.01},
      {"t":2006.49,"v":5.84},{"t":2006.51,"v":5.90},{"t":2006.52,"v":6.00},
      {"t":2006.56,"v":5.87},{"t":2006.54,"v":5.97},{"t":2006.55,"v":6.03},
      {"t":2006.59,"v":5.86},{"t":2006.61,"v":5.92},{"t":2006.60,"v":6.02},
      {"t":2006.66,"v":5.90},{"t":2006.64,"v":6.00},{"t":2006.67,"v":6.06},
      {"t":2006.69,"v":5.89},{"t":2006.71,"v":5.95},{"t":2006.70,"v":6.05},
      {"t":2006.76,"v":5.92},{"t":2006.74,"v":6.02},{"t":2006.75,"v":6.08},
      {"t":2006.79,"v":5.91},{"t":2006.81,"v":5.97},{"t":2006.82,"v":6.07},
      {"t":2006.86,"v":5.95},{"t":2006.84,"v":6.05},{"t":2006.85,"v":6.11},
      {"t":2006.89,"v":5.94},{"t":2006.91,"v":6.00},{"t":2006.90,"v":6.10},
      {"t":2006.96,"v":5.98},{"t":2006.94,"v":6.08},{"t":2006.97,"v":6.14},
      {"t":2006.99,"v":5.97},{"t":2007.01,"v":6.03},{"t":2007.00,"v":6.13},
      {"t":2007.06,"v":6.00},{"t":2007.04,"v":6.10},{"t":2007.05,"v":6.16},
      {"t":2007.09,"v":6.00},{"t":2007.11,"v":6.06},{"t":2007.12,"v":6.16},
      {"t":2007.16,"v":6.03},{"t":2007.14,"v":6.13},{"t":2007.15,"v":6.19},
      {"t":2007.19,"v":6.03},{"t":2007.21,"v":6.09},{"t":2007.20,"v":6.19},
      {"t":2007.26,"v":6.06},{"t":2007.24,"v":6.16},{"t":2007.27,"v":6.22},
      {"t":2007.29,"v":6.05},{"t":2007.31,"v":6.11},{"t":2007.30,"v":6.21},
      {"t":2007.36,"v":6.08},{"t":2007.34,"v":6.18},{"t":2007.35,"v":6.24},
      {"t":2007.39,"v":6.08},{"t":2007.41,"v":6.14},{"t":2007.42,"v":6.24},
      {"t":2007.46,"v":6.11},{"t":2007.44,"v":6.21},{"t":2007.45,"v":6.27},
      {"t":2007.49,"v":6.10},{"t":2007.51,"v":6.16},{"t":2007.50,"v":6.26},
      {"t":2007.56,"v":6.13},{"t":2007.54,"v":6.23},{"t":2007.57,"v":6.29},{"t":2007.55,"v":6.11},
      {"t":2007.59,"v":6.12},{"t":2007.61,"v":6.18},{"t":2007.60,"v":6.28},
      {"t":2007.66,"v":6.16},{"t":2007.64,"v":6.26},{"t":2007.65,"v":6.32},
      {"t":2007.69,"v":6.15},{"t":2007.71,"v":6.21},{"t":2007.72,"v":6.31},
      {"t":2007.76,"v":6.18},{"t":2007.74,"v":6.28},{"t":2007.75,"v":6.34},{"t":2007.73,"v":6.17},
      {"t":2007.79,"v":6.17},{"t":2007.81,"v":6.23},{"t":2007.80,"v":6.33},
      {"t":2007.86,"v":6.21},{"t":2007.84,"v":6.31},{"t":2007.87,"v":6.37},
      {"t":2007.89,"v":6.20},{"t":2007.91,"v":6.26},{"t":2007.90,"v":6.36},
      {"t":2007.96,"v":6.24},{"t":2007.94,"v":6.34},{"t":2007.95,"v":6.40},{"t":2007.97,"v":6.21},
      {"t":2007.99,"v":6.23},{"t":2008.01,"v":6.29},{"t":2008.00,"v":6.39},
      {"t":2008.06,"v":6.26},{"t":2008.04,"v":6.36},{"t":2008.07,"v":6.42},
      {"t":2008.09,"v":6.26},{"t":2008.11,"v":6.32},{"t":2008.10,"v":6.42},
      {"t":2008.16,"v":6.29},{"t":2008.14,"v":6.39},{"t":2008.15,"v":6.45},{"t":2008.15,"v":6.58},
      {"t":2008.19,"v":6.29},{"t":2008.21,"v":6.35},{"t":2008.22,"v":6.45},
      {"t":2008.26,"v":6.32},{"t":2008.24,"v":6.42},{"t":2008.25,"v":6.48},{"t":2008.24,"v":6.25},
      {"t":2008.29,"v":6.32},{"t":2008.31,"v":6.38},{"t":2008.30,"v":6.48},
      {"t":2008.36,"v":6.35},{"t":2008.34,"v":6.45},{"t":2008.37,"v":6.51},
      {"t":2008.39,"v":6.35},{"t":2008.41,"v":6.41},{"t":2008.40,"v":6.51},
      {"t":2008.46,"v":6.38},{"t":2008.44,"v":6.48},{"t":2008.45,"v":6.54},
      {"t":2008.49,"v":6.38},{"t":2008.51,"v":6.44},{"t":2008.52,"v":6.54},
      {"t":2008.56,"v":6.42},{"t":2008.54,"v":6.52},{"t":2008.55,"v":6.58},
      {"t":2008.59,"v":6.42},{"t":2008.61,"v":6.48},{"t":2008.60,"v":6.58},{"t":2008.60,"v":6.37},
      {"t":2008.66,"v":6.45},{"t":2008.64,"v":6.55},{"t":2008.67,"v":6.61},
      {"t":2008.69,"v":6.45},{"t":2008.71,"v":6.51},{"t":2008.70,"v":6.61},{"t":2008.70,"v":6.67},
      {"t":2008.76,"v":6.49},{"t":2008.74,"v":6.59},{"t":2008.75,"v":6.65},
      {"t":2005.62,"v":5.58},{"t":2006.05,"v":5.69},{"t":2006.47,"v":5.79},{"t":2007.05,"v":5.92},{"t":2007.52,"v":6.04},
      {"t":2008.08,"v":6.20},{"t":2005.30,"v":5.78},{"t":2006.20,"v":5.99},{"t":2007.28,"v":6.27},{"t":2008.45,"v":6.60},
      {"t":2004.40,"v":5.58},{"t":2006.87,"v":6.15},
      {"t":2004.025,"v":5.29},{"t":2004.025,"v":5.37},{"t":2004.025,"v":5.45},
      {"t":2004.075,"v":5.26},{"t":2004.075,"v":5.34},{"t":2004.075,"v":5.42},{"t":2004.075,"v":5.50},
      {"t":2004.125,"v":5.31},{"t":2004.125,"v":5.39},{"t":2004.125,"v":5.47},
      {"t":2004.175,"v":5.28},{"t":2004.175,"v":5.36},{"t":2004.175,"v":5.44},{"t":2004.175,"v":5.52},
      {"t":2004.225,"v":5.33},{"t":2004.225,"v":5.41},{"t":2004.225,"v":5.49},
      {"t":2004.275,"v":5.29},{"t":2004.275,"v":5.37},{"t":2004.275,"v":5.45},{"t":2004.275,"v":5.53},
      {"t":2004.325,"v":5.34},{"t":2004.325,"v":5.42},{"t":2004.325,"v":5.50},
      {"t":2004.375,"v":5.31},{"t":2004.375,"v":5.39},{"t":2004.375,"v":5.47},{"t":2004.375,"v":5.55},
      {"t":2004.425,"v":5.36},{"t":2004.425,"v":5.44},{"t":2004.425,"v":5.52},
      {"t":2004.475,"v":5.33},{"t":2004.475,"v":5.41},{"t":2004.475,"v":5.49},{"t":2004.475,"v":5.57},
      {"t":2004.525,"v":5.38},{"t":2004.525,"v":5.46},{"t":2004.525,"v":5.54},
      {"t":2004.575,"v":5.35},{"t":2004.575,"v":5.43},{"t":2004.575,"v":5.51},{"t":2004.575,"v":5.59},
      {"t":2004.625,"v":5.40},{"t":2004.625,"v":5.48},{"t":2004.625,"v":5.56},
      {"t":2004.675,"v":5.37},{"t":2004.675,"v":5.45},{"t":2004.675,"v":5.53},{"t":2004.675,"v":5.61},
      {"t":2004.725,"v":5.42},{"t":2004.725,"v":5.50},{"t":2004.725,"v":5.58},
      {"t":2004.775,"v":5.39},{"t":2004.775,"v":5.47},{"t":2004.775,"v":5.55},{"t":2004.775,"v":5.62},
      {"t":2004.825,"v":5.44},{"t":2004.825,"v":5.52},{"t":2004.825,"v":5.60},
      {"t":2004.875,"v":5.41},{"t":2004.875,"v":5.49},{"t":2004.875,"v":5.57},{"t":2004.875,"v":5.64},
      {"t":2004.925,"v":5.46},{"t":2004.925,"v":5.54},{"t":2004.925,"v":5.62},
      {"t":2004.975,"v":5.43},{"t":2004.975,"v":5.51},{"t":2004.975,"v":5.59},{"t":2004.975,"v":5.66},
      {"t":2005.025,"v":5.48},{"t":2005.025,"v":5.56},{"t":2005.025,"v":5.64},
      {"t":2005.075,"v":5.45},{"t":2005.075,"v":5.53},{"t":2005.075,"v":5.61},{"t":2005.075,"v":5.69},
      {"t":2005.125,"v":5.51},{"t":2005.125,"v":5.59},{"t":2005.125,"v":5.67},
      {"t":2005.175,"v":5.48},{"t":2005.175,"v":5.56},{"t":2005.175,"v":5.64},{"t":2005.175,"v":5.72},
      {"t":2005.225,"v":5.53},{"t":2005.225,"v":5.61},{"t":2005.225,"v":5.69},
      {"t":2005.275,"v":5.51},{"t":2005.275,"v":5.59},{"t":2005.275,"v":5.67},{"t":2005.275,"v":5.75},
      {"t":2005.325,"v":5.56},{"t":2005.325,"v":5.64},{"t":2005.325,"v":5.72},
      {"t":2005.375,"v":5.54},{"t":2005.375,"v":5.62},{"t":2005.375,"v":5.70},{"t":2005.375,"v":5.78},
      {"t":2005.425,"v":5.60},{"t":2005.425,"v":5.68},{"t":2005.425,"v":5.76},
      {"t":2005.475,"v":5.57},{"t":2005.475,"v":5.65},{"t":2005.475,"v":5.73},{"t":2005.475,"v":5.81},
      {"t":2005.525,"v":5.63},{"t":2005.525,"v":5.71},{"t":2005.525,"v":5.79},
      {"t":2005.575,"v":5.60},{"t":2005.575,"v":5.68},{"t":2005.575,"v":5.76},{"t":2005.575,"v":5.84},
      {"t":2005.625,"v":5.66},{"t":2005.625,"v":5.74},{"t":2005.625,"v":5.82},
      {"t":2005.675,"v":5.63},{"t":2005.675,"v":5.71},{"t":2005.675,"v":5.79},{"t":2005.675,"v":5.87},
      {"t":2005.725,"v":5.68},{"t":2005.725,"v":5.76},{"t":2005.725,"v":5.84},
      {"t":2005.775,"v":5.66},{"t":2005.775,"v":5.74},{"t":2005.775,"v":5.82},{"t":2005.775,"v":5.89},
      {"t":2005.825,"v":5.71},{"t":2005.825,"v":5.79},{"t":2005.825,"v":5.87},
      {"t":2005.875,"v":5.68},{"t":2005.875,"v":5.76},{"t":2005.875,"v":5.84},{"t":2005.875,"v":5.91},
      {"t":2005.925,"v":5.73},{"t":2005.925,"v":5.81},{"t":2005.925,"v":5.89},
      {"t":2005.975,"v":5.70},{"t":2005.975,"v":5.78},{"t":2005.975,"v":5.86},{"t":2005.975,"v":5.93},
      {"t":2006.025,"v":5.75},{"t":2006.025,"v":5.83},{"t":2006.025,"v":5.91},
      {"t":2006.075,"v":5.72},{"t":2006.075,"v":5.80},{"t":2006.075,"v":5.88},{"t":2006.075,"v":5.95},
      {"t":2006.125,"v":5.77},{"t":2006.125,"v":5.85},{"t":2006.125,"v":5.93},
      {"t":2006.175,"v":5.74},{"t":2006.175,"v":5.82},{"t":2006.175,"v":5.90},{"t":2006.175,"v":5.98},
      {"t":2006.225,"v":5.79},{"t":2006.225,"v":5.87},{"t":2006.225,"v":5.95},
      {"t":2006.275,"v":5.77},{"t":2006.275,"v":5.85},{"t":2006.275,"v":5.93},{"t":2006.275,"v":6.00},
      {"t":2006.325,"v":5.82},{"t":2006.325,"v":5.90},{"t":2006.325,"v":5.98},
      {"t":2006.375,"v":5.79},{"t":2006.375,"v":5.87},{"t":2006.375,"v":5.95},{"t":2006.375,"v":6.02},
      {"t":2006.425,"v":5.84},{"t":2006.425,"v":5.92},{"t":2006.425,"v":6.00},
      {"t":2006.475,"v":5.81},{"t":2006.475,"v":5.89},{"t":2006.475,"v":5.97},{"t":2006.475,"v":6.04},
      {"t":2006.525,"v":5.86},{"t":2006.525,"v":5.94},{"t":2006.525,"v":6.02},
      {"t":2006.575,"v":5.83},{"t":2006.575,"v":5.91},{"t":2006.575,"v":5.99},{"t":2006.575,"v":6.07},
      {"t":2006.625,"v":5.88},{"t":2006.625,"v":5.96},{"t":2006.625,"v":6.04},
      {"t":2006.675,"v":5.85},{"t":2006.675,"v":5.93},{"t":2006.675,"v":6.01},{"t":2006.675,"v":6.09},
      {"t":2006.725,"v":5.90},{"t":2006.725,"v":5.98},{"t":2006.725,"v":6.06},
      {"t":2006.775,"v":5.88},{"t":2006.775,"v":5.96},{"t":2006.775,"v":6.04},{"t":2006.775,"v":6.12},
      {"t":2006.825,"v":5.93},{"t":2006.825,"v":6.01},{"t":2006.825,"v":6.09},
      {"t":2006.875,"v":5.91},{"t":2006.875,"v":5.99},{"t":2006.875,"v":6.07},{"t":2006.875,"v":6.15},
      {"t":2006.925,"v":5.96},{"t":2006.925,"v":6.04},{"t":2006.925,"v":6.12},
      {"t":2006.975,"v":5.94},{"t":2006.975,"v":6.02},{"t":2006.975,"v":6.10},{"t":2006.975,"v":6.17},
      {"t":2007.025,"v":5.99},{"t":2007.025,"v":6.07},{"t":2007.025,"v":6.15},
      {"t":2007.075,"v":5.96},{"t":2007.075,"v":6.04},{"t":2007.075,"v":6.12},{"t":2007.075,"v":6.20},
      {"t":2007.125,"v":6.02},{"t":2007.125,"v":6.10},{"t":2007.125,"v":6.18},
      {"t":2007.175,"v":5.99},{"t":2007.175,"v":6.07},{"t":2007.175,"v":6.15},{"t":2007.175,"v":6.23},
      {"t":2007.225,"v":6.04},{"t":2007.225,"v":6.12},{"t":2007.225,"v":6.20},
      {"t":2007.275,"v":6.02},{"t":2007.275,"v":6.10},{"t":2007.275,"v":6.18},{"t":2007.275,"v":6.26},
      {"t":2007.325,"v":6.07},{"t":2007.325,"v":6.15},{"t":2007.325,"v":6.23},
      {"t":2007.375,"v":6.04},{"t":2007.375,"v":6.12},{"t":2007.375,"v":6.20},{"t":2007.375,"v":6.28},
      {"t":2007.425,"v":6.09},{"t":2007.425,"v":6.17},{"t":2007.425,"v":6.25},
      {"t":2007.475,"v":6.06},{"t":2007.475,"v":6.14},{"t":2007.475,"v":6.22},{"t":2007.475,"v":6.30},
      {"t":2007.525,"v":6.12},{"t":2007.525,"v":6.20},{"t":2007.525,"v":6.28},
      {"t":2007.575,"v":6.09},{"t":2007.575,"v":6.17},{"t":2007.575,"v":6.25},{"t":2007.575,"v":6.33},
      {"t":2007.625,"v":6.14},{"t":2007.625,"v":6.22},{"t":2007.625,"v":6.30},
      {"t":2007.675,"v":6.11},{"t":2007.675,"v":6.19},{"t":2007.675,"v":6.27},{"t":2007.675,"v":6.35},
      {"t":2007.725,"v":6.16},{"t":2007.725,"v":6.24},{"t":2007.725,"v":6.32},
      {"t":2007.775,"v":6.14},{"t":2007.775,"v":6.22},{"t":2007.775,"v":6.30},{"t":2007.775,"v":6.38},
      {"t":2007.825,"v":6.19},{"t":2007.825,"v":6.27},{"t":2007.825,"v":6.35},
      {"t":2007.875,"v":6.17},{"t":2007.875,"v":6.25},{"t":2007.875,"v":6.33},{"t":2007.875,"v":6.41},
      {"t":2007.925,"v":6.22},{"t":2007.925,"v":6.30},{"t":2007.925,"v":6.38},
      {"t":2007.975,"v":6.19},{"t":2007.975,"v":6.27},{"t":2007.975,"v":6.35},{"t":2007.975,"v":6.43},
      {"t":2008.025,"v":6.25},{"t":2008.025,"v":6.33},{"t":2008.025,"v":6.41},
      {"t":2008.075,"v":6.22},{"t":2008.075,"v":6.30},{"t":2008.075,"v":6.38},{"t":2008.075,"v":6.46},
      {"t":2008.125,"v":6.28},{"t":2008.125,"v":6.36},{"t":2008.125,"v":6.44},
      {"t":2008.175,"v":6.25},{"t":2008.175,"v":6.33},{"t":2008.175,"v":6.41},{"t":2008.175,"v":6.49},
      {"t":2008.225,"v":6.30},{"t":2008.225,"v":6.38},{"t":2008.225,"v":6.46},
      {"t":2008.275,"v":6.28},{"t":2008.275,"v":6.36},{"t":2008.275,"v":6.44},{"t":2008.275,"v":6.52},
      {"t":2008.325,"v":6.33},{"t":2008.325,"v":6.41},{"t":2008.325,"v":6.49},
      {"t":2008.375,"v":6.31},{"t":2008.375,"v":6.39},{"t":2008.375,"v":6.47},{"t":2008.375,"v":6.55},
      {"t":2008.425,"v":6.37},{"t":2008.425,"v":6.45},{"t":2008.425,"v":6.53},
      {"t":2008.475,"v":6.34},{"t":2008.475,"v":6.42},{"t":2008.475,"v":6.50},{"t":2008.475,"v":6.58},
      {"t":2008.525,"v":6.40},{"t":2008.525,"v":6.48},{"t":2008.525,"v":6.56},
      {"t":2008.575,"v":6.38},{"t":2008.575,"v":6.46},{"t":2008.575,"v":6.54},{"t":2008.575,"v":6.62},
      {"t":2008.625,"v":6.44},{"t":2008.625,"v":6.52},{"t":2008.625,"v":6.60},
      {"t":2008.675,"v":6.41},{"t":2008.675,"v":6.49},{"t":2008.675,"v":6.57},{"t":2008.675,"v":6.65},
      {"t":2008.725,"v":6.47},{"t":2008.725,"v":6.55},{"t":2008.725,"v":6.63}
    ]
  },
  "resolve": {"axis": {"x": "independent", "y": "independent"}},
  "layer": [
    {
      "data": {"name": "panel"},
      "mark": {"type": "rect", "fill": "#808080", "stroke": "#ff3300", "strokeWidth": 8, "clip": false},
      "encoding": {
        "x": {"field": "x0", "type": "quantitative", "scale": {"domain": [2003.955, 2008.764], "nice": false, "zero": false}, "axis": null},
        "x2": {"field": "x1"},
        "y": {"field": "y0", "type": "quantitative", "scale": {"domain": [5.2365, 6.826], "nice": false, "zero": false}, "axis": null},
        "y2": {"field": "y1"}
      }
    },
    {
      "data": {"name": "corner"},
      "mark": {"type": "rule", "stroke": "#000000", "strokeWidth": 2.5, "clip": false},
      "encoding": {
        "x": {"field": "x0", "type": "quantitative", "axis": null},
        "x2": {"field": "x1"},
        "y": {"field": "y0", "type": "quantitative", "axis": null},
        "y2": {"field": "y1"}
      }
    },
    {
      "data": {"name": "bl"},
      "mark": {"type": "circle", "size": 105, "opacity": 1, "clip": true},
      "encoding": {
        "x": {
          "field": "t", "type": "quantitative",
          "axis": {
            "orient": "bottom", "values": [2004, 2005, 2006, 2007, 2008], "format": "d",
            "labelPadding": 16, "title": "Year", "titleFontSize": 18,
            "titleX": 266, "titleY": 51, "titleBaseline": "alphabetic", "titleAlign": "center"
          }
        },
        "y": {
          "field": "v", "type": "quantitative",
          "axis": {
            "orient": "left", "values": [5.4, 5.6, 5.8, 6, 6.2, 6.4, 6.6, 6.8],
            "labelExpr": "datum.value < 5.5 ? '4' : format(datum.value, '.1~f')",
            "labelFontSize": 17, "labelPadding": 10,
            "title": "SF₆ (ppt)", "titleFontSize": 17, "titleAngle": -90,
            "titleX": -56, "titleY": 207, "titleBaseline": "alphabetic", "titleAlign": "center"
          }
        },
        "color": {
          "datum": "Boundary Layer", "type": "nominal",
          "scale": {"domain": ["Boundary Layer", "Free Troposphere", "MLO"], "range": ["#000000", "#00f000", "#ff0000"]},
          "legend": {
            "orient": "none", "legendX": 251, "legendY": 304, "title": null,
            "padding": 10, "fillColor": "#ffffff", "strokeColor": "#555555",
            "symbolType": "circle", "symbolSize": 45, "symbolStrokeWidth": 0, "symbolOffset": 16,
            "labelFont": "DejaVu Sans", "labelFontWeight": "bold", "labelFontSize": 19, "labelColor": "#000000",
            "labelOffset": 19, "rowPadding": 9.5, "labelLimit": 400
          }
        }
      }
    },
    {
      "data": {"name": "ft"},
      "mark": {"type": "circle", "size": 105, "opacity": 1, "clip": true},
      "encoding": {
        "x": {"field": "t", "type": "quantitative", "axis": {"orient": "top", "values": [2004, 2005, 2006, 2007, 2008], "labels": false, "title": null}},
        "y": {"field": "v", "type": "quantitative", "axis": {"orient": "right", "values": [5.4, 5.6, 5.8, 6, 6.2, 6.4, 6.6, 6.8], "labels": false, "title": null}},
        "color": {"datum": "Free Troposphere", "type": "nominal"}
      }
    },
    {
      "data": {"name": "mlo"},
      "mark": {"type": "circle", "size": 105, "opacity": 1, "clip": true},
      "encoding": {
        "x": {"field": "t", "type": "quantitative", "axis": null},
        "y": {"field": "v", "type": "quantitative", "axis": null},
        "color": {"datum": "MLO", "type": "nominal"}
      }
    }
  ]
}
